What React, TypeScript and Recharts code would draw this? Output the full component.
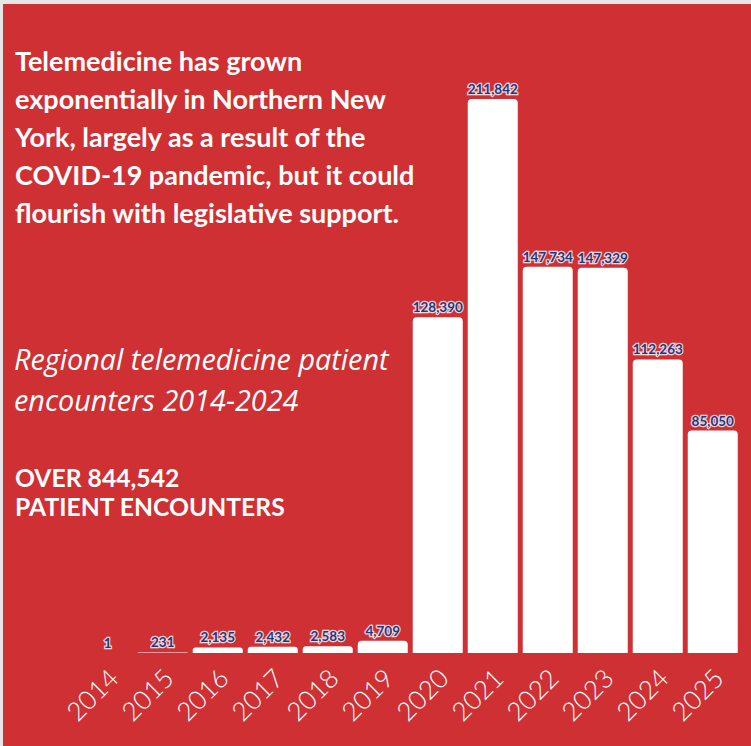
import { BarChart, Bar, XAxis, YAxis, LabelList } from 'recharts'

const years = ['2014', '2015', '2016', '2017', '2018', '2019', '2020', '2021', '2022', '2023', '2024', '2025']
const encounters = [1, 231, 2135, 2432, 2583, 4709, 128390, 211842, 147734, 147329, 112263, 85050]

const titleLines = [
  'Telemedicine has grown',
  'exponentially in Northern New',
  'York, largely as a result of the',
  'COVID-19 pandemic, but it could',
  'flourish with legislative support.',
]
const subtitleLines = ['Regional telemedicine patient', 'encounters 2014-2024']
const totalLines = ['OVER 844,542', 'PATIENT ENCOUNTERS']

const data = years.map((year, i) => ({ year, value: encounters[i] }))

const RED = '#cf3034'
const NAVY = '#1a3885'
const FONT = 'Lato, "Open Sans", sans-serif'

const YearTick = (props: any) => {
  const { x, y, payload } = props
  const tx = x + 13
  const ty = y + 19
  return (
    <text
      x={tx}
      y={ty}
      transform={`rotate(-45, ${tx}, ${ty})`}
      textAnchor="end"
      fill="#fff"
      fontSize={26}
      fontWeight={300}
      fontFamily={FONT}
    >
      {payload.value}
    </text>
  )
}

const ValueLabel = (props: any) => {
  const { x, y, width, value } = props
  return (
    <text
      x={x + width / 2}
      y={y - 5}
      textAnchor="middle"
      fill={NAVY}
      stroke="#fff"
      strokeWidth={2.5}
      strokeOpacity={0.8}
      paintOrder="stroke"
      fontSize={13.5}
      fontWeight={700}
      fontFamily={FONT}
    >
      {Number(value).toLocaleString('en-US')}
    </text>
  )
}

export default function App() {
  return (
    <div style={{ position: 'relative', width: 751, height: 746, background: '#e6e6e6', overflow: 'hidden' }}>
      <style>{'body{margin:0}'}</style>
      <div style={{ position: 'absolute', left: 3, top: 4, right: 0, bottom: 0, background: RED }} />

      <div style={{ position: 'absolute', left: 15, top: 42, color: '#fff', fontFamily: FONT, fontWeight: 700, fontSize: 27, lineHeight: '38px', whiteSpace: 'nowrap' }}>
        {titleLines.map(l => <div key={l}>{l}</div>)}
      </div>

      <div style={{ position: 'absolute', left: 14, top: 338, color: '#fff', fontFamily: '"Open Sans", sans-serif', fontStyle: 'italic', fontWeight: 400, fontSize: 28.8, lineHeight: '41px', whiteSpace: 'nowrap' }}>
        {subtitleLines.map(l => <div key={l}>{l}</div>)}
      </div>

      <div style={{ position: 'absolute', left: 15, top: 463, color: '#fff', fontFamily: FONT, fontWeight: 700, fontSize: 24.7, lineHeight: '29px', whiteSpace: 'nowrap' }}>
        {totalLines.map(l => <div key={l}>{l}</div>)}
      </div>

      <div style={{ position: 'absolute', left: 0, top: 0 }}>
        <BarChart
          width={751}
          height={746}
          data={data}
          margin={{ top: 99, right: 11, left: 80, bottom: 13 }}
          barCategoryGap="5%"
        >
          <XAxis dataKey="year" axisLine={false} tickLine={false} height={80} interval={0} tick={<YearTick />} />
          <YAxis hide width={0} domain={[0, 211842]} />
          <Bar dataKey="value" fill="#fff" radius={[4, 4, 0, 0]} isAnimationActive={false}>
            <LabelList dataKey="value" content={<ValueLabel />} />
          </Bar>
        </BarChart>
      </div>
    </div>
  )
}
